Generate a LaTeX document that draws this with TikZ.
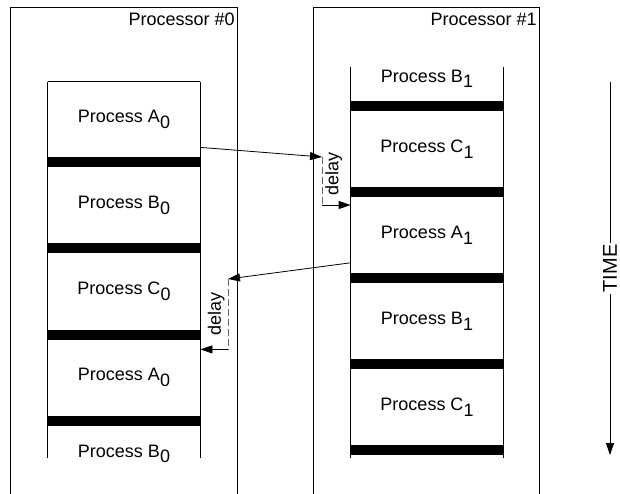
\documentclass[tikz,border=0pt]{standalone}
\usepackage{fontspec}
\setmainfont{Liberation Sans}
\usetikzlibrary{positioning,arrows.meta}
\newcommand{\pnum}[1]{\raisebox{-0.3em}{#1}}

\begin{document}
\begin{tikzpicture}[x=1pt,y=-1pt,line width=0.8pt,
  font=\fontsize{18}{21}\selectfont,
  cell/.style={minimum width=152pt,minimum height=74.5pt,inner sep=0pt},
  bar/.style={fill=black,minimum width=152pt,minimum height=10pt,inner sep=0pt},
  msg/.style={-{Triangle[length=12pt,width=8pt]}},
  wait/.style={dash pattern=on 7pt off 3pt,draw=black!60},
  lbl/.style={rotate=90,inner sep=3pt}]

 \useasboundingbox (0,0) rectangle (620,494);

 % processor frames, open at the bottom
 \draw (10,494) |- (237,7) -- (237,494);
 \draw (313,494) |- (539,7) -- (539,494);
 \node[anchor=north east,inner sep=2pt] (p0) at (237,11) {Processor \#0};
 \node[anchor=north east,inner sep=2pt] (p1) at (539,11) {Processor \#1};

 % time slots on processor 0
 \node[cell] (a0) at (124,119.25) {Process A\pnum{0}};
 \node[bar,below=0pt of a0] (lbar1) {};
 \node[cell,below=0pt of lbar1] (b0) {Process B\pnum{0}};
 \node[bar,below=0pt of b0] (lbar2) {};
 \node[cell,below=0pt of lbar2] (c0) {Process C\pnum{0}};
 \node[bar,below=0pt of c0] (lbar3) {};
 \node[cell,below=0pt of lbar3] (a0n) {Process A\pnum{0}};
 \node[bar,below=0pt of a0n] (lbar4) {};
 \node[below=15pt of lbar4] (b0n) {Process B\pnum{0}};

 \coordinate (lend) at (124,458);
 \draw (a0.north west) -- (a0.north east);
 \draw (a0.north west) -- (a0.north west |- lend);
 \draw (a0.north east) -- (a0.north east |- lend);

 % time slots on processor 1
 \node[bar] (rbar1) at (427,106) {};
 \node[above=9pt of rbar1] (b1) {Process B\pnum{1}};
 \node[cell,below=0pt of rbar1] (c1) {Process C\pnum{1}};
 \node[bar,below=0pt of c1] (rbar2) {};
 \node[cell,below=0pt of rbar2] (a1) {Process A\pnum{1}};
 \node[bar,below=0pt of a1] (rbar3) {};
 \node[cell,below=0pt of rbar3] (b1n) {Process B\pnum{1}};
 \node[bar,below=0pt of b1n] (rbar4) {};
 \node[cell,below=0pt of rbar4] (c1n) {Process C\pnum{1}};
 \node[bar,below=0pt of c1n] (rbar5) {};

 \coordinate (rtop) at (427,67);
 \draw (rtop -| rbar1.west) -- (lend -| rbar1.west);
 \draw (rtop -| rbar1.east) -- (lend -| rbar1.east);

 % message A0 -> A1
 \coordinate (s1) at ([yshift=9.5pt]a0.south east);
 \coordinate (d1) at (322,157);
 \coordinate (r1) at ([yshift=-7.5pt]a1.north west);
 \draw[msg] (s1) -- (d1);
 \draw[wait] (d1) -- node[lbl,anchor=north,pos=0.35] (w1) {delay} (d1 |- r1);
 \draw[msg] (d1 |- r1) -- (r1);

 % message A1 -> A0
 \coordinate (s2) at ([yshift=10pt]a1.south west);
 \coordinate (d2) at (228,279);
 \coordinate (r2) at ([yshift=-9.5pt]a0n.north east);
 \draw[msg] (s2) -- (d2);
 \draw[wait] (d2) -- node[lbl,anchor=south] (w2) {delay} (d2 |- r2);
 \draw[msg] (d2 |- r2) -- (r2);

 % time axis
 \coordinate (ttop) at (610,82);
 \coordinate (tbot) at (610,455);
 \draw[msg] (ttop) -- node[rotate=90,fill=white,inner sep=2pt,
   font=\fontsize{20}{24}\selectfont] (time) {TIME} (tbot);

\end{tikzpicture}
\end{document}
